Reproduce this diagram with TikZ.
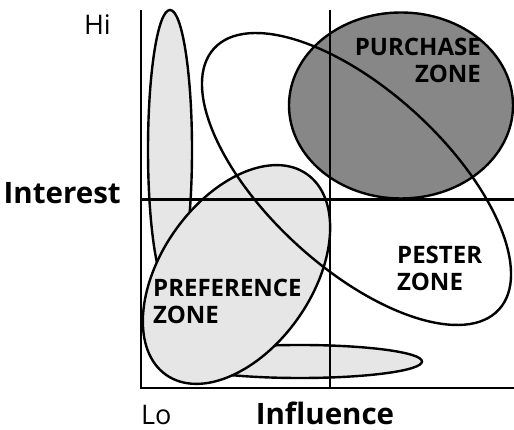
\documentclass[tikz,border=0pt]{standalone}
\usepackage{fontspec}
\setmainfont{Open Sans}
\definecolor{lightzone}{HTML}{E6E6E6}
\definecolor{darkzone}{HTML}{878787}
\begin{document}
\begin{tikzpicture}[x=1pt,y=1pt,
  zoneline/.style={line width=2.4pt},
  axisline/.style={line width=2.8pt},
  gridline/.style={line width=2.3pt},
  zonelabel/.style={inner sep=0pt, font=\bfseries\fontsize{24}{27}\selectfont},
  axislabel/.style={inner sep=0pt, font=\bfseries\fontsize{29.5}{31}\selectfont},
  endlabel/.style={inner sep=0pt, font=\fontsize{27}{30}\selectfont}]
\useasboundingbox (0,0) rectangle (514,430);
% tall thin ellipse
\draw[zoneline, fill=lightzone] (170,280) ellipse [x radius=22, y radius=140];
% flat horizontal ellipse
\draw[zoneline, fill=lightzone] (300,68.5) ellipse [x radius=122, y radius=16.5];
% preference ellipse
\draw[zoneline, fill=lightzone, rotate around={55:(236.5,155.5)}] (236.5,155.5) ellipse [x radius=122.6, y radius=75.5];
% purchase ellipse
\draw[zoneline, fill=darkzone] (401,324.5) ellipse [x radius=112, y radius=93];
% pester ellipse
\draw[zoneline, rotate around={-42.5:(356.5,251)}] (356.5,251) ellipse [x radius=193.2, y radius=88.6];
% grid
\coordinate (tl) at (141,420);
\coordinate (bl) at (141,42);
\coordinate (br) at (514,42);
\coordinate (mt) at (330,420);
\coordinate (mb) at (330,42);
\coordinate (ml) at (141,230.5);
\coordinate (mr) at (514,230.5);
\draw[gridline] (mt) -- (mb);
\draw[gridline] (ml) -- (mr);
\draw[axisline] (tl) -- (bl) -- (br);
% labels
\node[endlabel, anchor=base east] (hi) at (111,395) {Hi};
\node[endlabel, anchor=base west] (lo) at (141,5.5) {Lo};
\node[axislabel, anchor=base east] (interest) at (121,226) {Interest};
\node[axislabel, anchor=base] (influence) at (325,5.5) {Influence};
\node[zonelabel, align=right, anchor=base east] (purchase) at (481,347) {PURCHASE\\ZONE};
\node[zonelabel, align=left, anchor=base west] (pester) at (397,139) {PESTER\\ZONE};
\node[zonelabel, align=left, anchor=base west] (preference) at (153,106) {PREFERENCE\\ZONE};
\end{tikzpicture}
\end{document}
